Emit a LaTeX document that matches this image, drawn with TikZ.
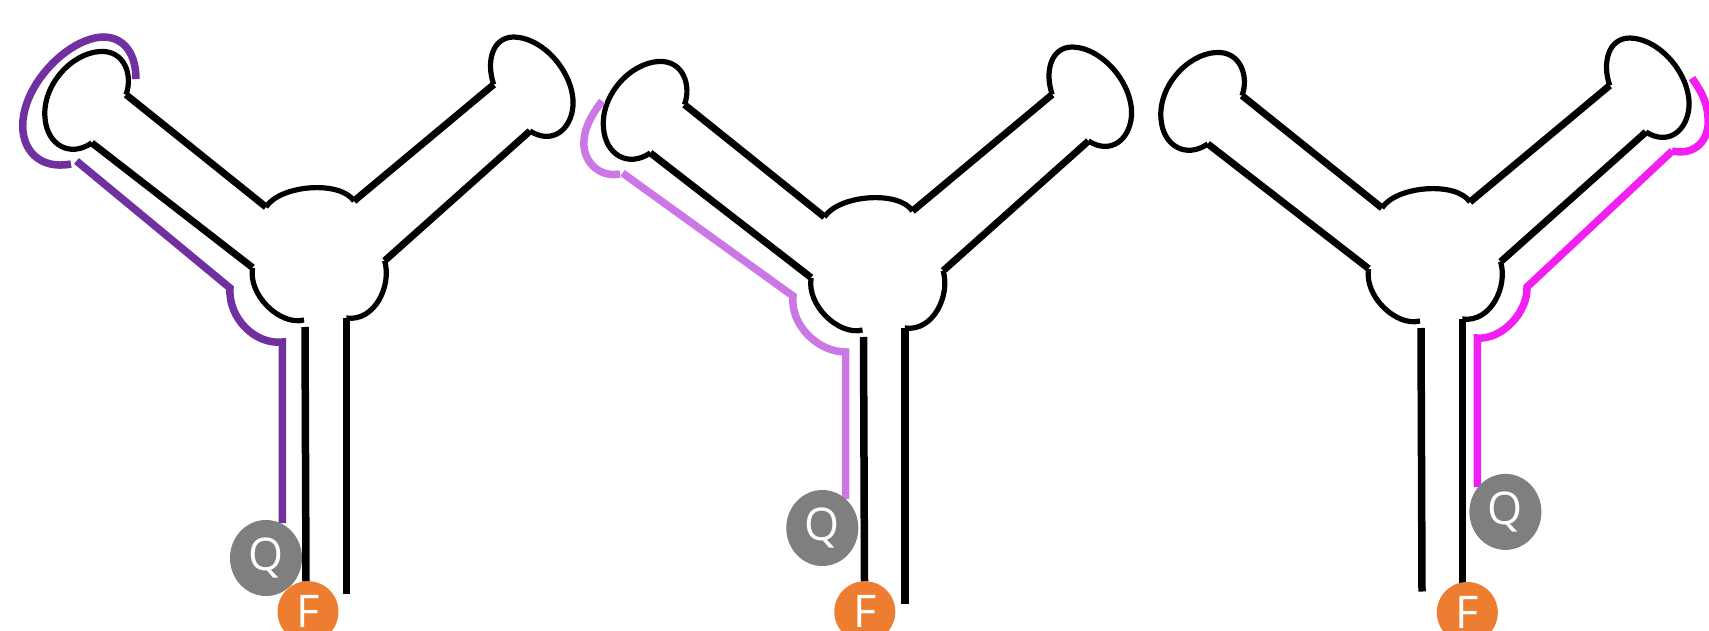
\documentclass[tikz,border=0pt]{standalone}
\usepackage{fontspec}
\setsansfont{Open Sans}
\usetikzlibrary{shapes.geometric}

\definecolor{qgray}{HTML}{7F7F7F}
\definecolor{forange}{HTML}{ED7D31}
\definecolor{darkpurple}{HTML}{7030A0}
\definecolor{lightpurple}{HTML}{CC77E6}
\definecolor{brightmagenta}{HTML}{F21EF2}

\begin{document}
\begin{tikzpicture}[x=1pt,y=-1pt]
    \tikzstyle{arm} = [line width=7pt]
    \tikzstyle{curl} = [line width=5.2pt]
    \tikzstyle{stem} = [line width=7.5pt]
    \tikzstyle{strand} = [line width=7.5pt]
    \tikzstyle{quencher} = [ellipse, fill=qgray, text=white, minimum width=72pt, minimum height=76pt, inner sep=0pt, font=\sffamily\fontsize{45}{45}\selectfont]
    \tikzstyle{fluor} = [circle, fill=forange, text=white, minimum size=61pt, inner sep=0pt, font=\sffamily\fontsize{45}{45}\selectfont]

    \useasboundingbox (0,0) rectangle (1709,631);

    % three-way junction, once per copy (shift, left/right stem ends)
    \foreach \dx/\dy/\la/\lb in {0/0/581.5/593.6, 558.5/10/571.5/593.6, 1116/1/590.5/582.5} {
        \begin{scope}[shift={(\dx,\dy)}]
            % left hairpin
            \draw [arm] (252.6,267.6) -- (91.8,142.9);
            \draw [curl] (126,94.6) .. controls (133,76) and (125,50) .. (100,51.5) .. controls (72,53) and (42,85) .. (45,118) .. controls (47,145) and (70,158) .. (91.8,142.9);
            \draw [arm] (126,94.6) -- (266,207);
            \draw [curl] (266,207) .. controls (280,185) and (340,180) .. (354,201);
            % right hairpin
            \draw [arm] (354,201) -- (493.7,84.5);
            \draw [curl] (493.7,84.5) .. controls (486,62) and (492,37) .. (514,37) .. controls (545,38) and (575,75) .. (573,106) .. controls (571,130) and (552,145) .. (530,131);
            \draw [arm] (530,131) -- (384.6,260.8);
            \draw [curl] (384.6,260.8) .. controls (392,285) and (375,322) .. (346.3,318);
            % stem
            \draw [stem] (346.3,318) -- (346.3,\lb);
            \draw [curl] (252.6,268) .. controls (248,295) and (280,326) .. (304,320);
            \draw [stem] (305,327) -- (306,\la);
        \end{scope}
    }

    % probe strands
    \draw [strand, darkpurple] (282.4,523) -- (282.4,342) .. controls (255,345) and (228,318) .. (230,288) -- (76.5,161);
    \draw [strand, darkpurple] (71,164) .. controls (40,170) and (20,150) .. (23,120) .. controls (27,80) and (70,38) .. (103,37) .. controls (125,37) and (136,55) .. (136,79);

    \draw [strand, lightpurple] (845.6,499) -- (845.6,352) .. controls (818,352) and (790,325) .. (793,296) -- (622.5,173);
    \draw [strand, lightpurple] (620,174) .. controls (598,178) and (582,160) .. (584,140) .. controls (585,125) and (594,112) .. (602,101);

    \draw [strand, brightmagenta] (1477.3,487) -- (1477.3,338) .. controls (1502,340) and (1528,312) .. (1527,287) -- (1672.3,150.9);
    \draw [strand, brightmagenta] (1672,151) .. controls (1695,156) and (1710,140) .. (1708,118) .. controls (1707,100) and (1700,90) .. (1692,78);

    % labels
    \node (q1) [quencher] at (266,558) {Q};
    \node (f1) [fluor] at (308,611.7) {F};
    \node (q2) [quencher] at (822.3,528) {Q};
    \node (f2) [fluor] at (864.8,611.7) {F};
    \node (q3) [quencher] at (1505.4,511.9) {Q};
    \node (f3) [fluor] at (1467.3,612.5) {F};
\end{tikzpicture}
\end{document}
